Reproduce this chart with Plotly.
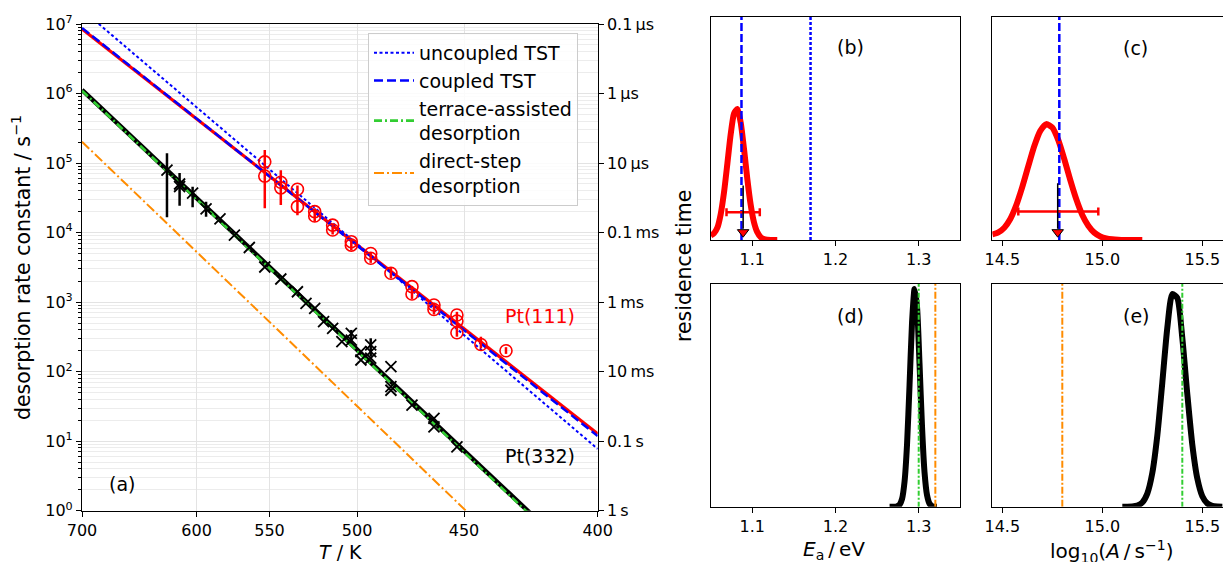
import numpy as np
import plotly.graph_objects as go

FONT = "DejaVu Sans"
KB_LN10 = 8.617333e-5 * np.log(10)   # Boltzmann constant (eV/K) * ln 10

# ---------------- Arrhenius lines (Ea / eV, log10(A / s^-1)) ----------------
theory_names = ["uncoupled TST", "coupled TST",
                "terrace-assisted<br>desorption", "direct-step<br>desorption"]
theory_Ea = [1.170, 1.087, 1.300, 1.320]
theory_logA = [15.63, 14.77, 15.40, 14.81]
fit_names = ["Pt(111) fit", "Pt(332) fit"]
fit_Ea = [1.078, 1.297]
fit_logA = [14.69, 15.39]

# ---------------- measured rate constants ----------------
T111 = [553, 553, 543, 543, 533, 533, 523, 523, 513, 513, 503, 503, 493, 493,
        483, 473, 473, 463, 463, 453, 453, 453, 443, 433]
k111 = [1.04e5, 6.5e4, 5.3e4, 4.4e4, 4.2e4, 2.36e4, 2.0e4, 1.73e4, 1.28e4, 1.09e4,
        7.4e3, 6.6e3, 5.0e3, 4.27e3, 2.6e3, 1.67e3, 1.31e3, 908, 783, 653, 535,
        363, 246, 200]
k111_up = [0, 8.9e4, 0, 3.5e4, 0, 2.4e4, 0, 5.0e3, 0, 2.5e3, 0, 1.5e3, 0, 1.0e3,
           500, 0, 400, 0, 200, 0, 190, 0, 72, 25]
k111_dn = [0, 4.26e4, 0, 1.9e4, 0, 5.8e3, 0, 3.0e3, 0, 1.5e3, 0, 1.0e3, 0, 600,
           400, 0, 200, 0, 120, 0, 217, 0, 30, 20]

T332 = [623, 613, 613, 603, 593, 583, 573, 563, 553, 543, 533, 528, 523, 518, 513,
        508, 503, 503, 498, 498, 493, 493, 493, 483, 483, 483, 473, 463, 463, 453]
k332 = [7.9e4, 5.0e4, 4.6e4, 3.7e4, 2.2e4, 1.57e4, 9.2e3, 6.1e3, 3.2e3, 2.15e3,
        1.41e3, 962, 815, 523, 420, 270, 356, 285, 194, 147, 242, 194, 156, 118,
        61, 54, 33, 21.3, 16.1, 8.3]
k332_up = [5.9e4, 2.2e4, 0, 8.7e3, 5.8e3, 0, 0, 0, 0, 0, 0, 0, 0, 0, 0,
           0, 41, 0, 0, 0, 60, 0, 0, 0, 0, 0, 0, 0, 0, 0]
k332_dn = [6.24e4, 2.56e4, 0, 1.39e4, 5.1e3, 0, 0, 0, 0, 0, 0, 0, 0, 0, 0,
           0, 101, 0, 0, 0, 78, 0, 0, 0, 0, 0, 0, 0, 0, 0]

# ---------------- axis ticks ----------------
xtick_T = [700, 600, 550, 500, 450, 400]
ytick_exp = [0, 1, 2, 3, 4, 5, 6, 7]
time_labels = ["1\u2009s", "0.1\u2009s", "10\u2009ms", "1\u2009ms", "0.1\u2009ms",
               "10\u2009\u00b5s", "1\u2009\u00b5s", "0.1\u2009\u00b5s"]

# ---------------- residence-time histograms ----------------
hb_x = [1.050, 1.054, 1.058, 1.062, 1.066, 1.070, 1.074, 1.078, 1.082, 1.086,
        1.090, 1.094, 1.098, 1.102, 1.106, 1.110, 1.114, 1.118, 1.122, 1.126, 1.130]
hb_y = [0.02, 0.03, 0.055, 0.115, 0.213, 0.341, 0.473, 0.566, 0.587, 0.527,
        0.409, 0.274, 0.159, 0.080, 0.035, 0.013, 0.004, 0.001, 0.0, 0.0, 0.0]
hc_x = [14.45, 14.48, 14.51, 14.54, 14.57, 14.60, 14.63, 14.66, 14.69, 14.72,
        14.75, 14.78, 14.81, 14.84, 14.87, 14.90, 14.93, 14.96, 14.99, 15.02,
        15.05, 15.08, 15.11, 15.14, 15.17, 15.20]
hc_y = [0.025, 0.034, 0.055, 0.094, 0.156, 0.238, 0.331, 0.421, 0.489, 0.519,
        0.504, 0.447, 0.362, 0.268, 0.182, 0.112, 0.064, 0.033, 0.016, 0.007,
        0.003, 0.001, 0.0, 0.0, 0.0, 0.0]
hd_x = [1.265, 1.268, 1.271, 1.274, 1.277, 1.280, 1.283, 1.286, 1.289, 1.292,
        1.295, 1.298, 1.301, 1.304, 1.307, 1.310, 1.313, 1.316, 1.319, 1.322]
hd_y = [0.0, 0.0, 0.0, 0.002, 0.009, 0.035, 0.113, 0.281, 0.547, 0.828,
        0.977, 0.897, 0.642, 0.358, 0.155, 0.052, 0.014, 0.003, 0.0, 0.0]
he_x = [15.100, 15.125, 15.150, 15.175, 15.200, 15.225, 15.250, 15.275, 15.300,
        15.325, 15.350, 15.375, 15.400, 15.425, 15.450, 15.475, 15.500, 15.525,
        15.550, 15.575, 15.600]
he_y = [0.0, 0.0, 0.001, 0.005, 0.019, 0.059, 0.151, 0.319, 0.557, 0.803, 0.955,
        0.937, 0.758, 0.506, 0.279, 0.127, 0.047, 0.015, 0.004, 0.001, 0.0]

# mean +- spread markers for Pt(111) panels (b), (c)
ebar_b = [1.069, 1.089, 1.109]   # lo, centre, hi
ebar_c = [14.58, 14.777, 14.98]
ebar_y = [0.124, 0.128]
arrow_top = [0.244, 0.254]

RED, BLUE, GREEN, ORANGE = "#ff0000", "#0000ff", "#32cd32", "#ff8c00"
theory_colors = [BLUE, BLUE, GREEN, ORANGE]
theory_dash = ["3px,2.5px", "9px,4px", "8px,3px,2px,3px", "10px,3px,2px,3px"]
theory_width = [2, 2.5, 2.6, 2]

fig = go.Figure()


def arrhenius(Ea, logA, T):
    return 10 ** (logA - Ea / (KB_LN10 * T))


T_ends = np.array([700.0, 400.0])
u_ends = 1000.0 / T_ends

# fits (solid)
fig.add_trace(go.Scatter(x=u_ends, y=arrhenius(fit_Ea[0], fit_logA[0], T_ends),
                         mode="lines", line=dict(color=RED, width=3.2),
                         showlegend=False, hoverinfo="skip"))
fig.add_trace(go.Scatter(x=u_ends, y=arrhenius(fit_Ea[1], fit_logA[1], T_ends),
                         mode="lines", line=dict(color="black", width=4.5),
                         showlegend=False, hoverinfo="skip"))
# theory
for n, Ea, lA, c, d, w in zip(theory_names, theory_Ea, theory_logA,
                              theory_colors, theory_dash, theory_width):
    fig.add_trace(go.Scatter(x=u_ends, y=arrhenius(Ea, lA, T_ends), mode="lines",
                             name=n, line=dict(color=c, width=w, dash=d)))

# data
fig.add_trace(go.Scatter(
    x=[1000.0 / t for t in T111], y=k111, mode="markers", showlegend=False,
    marker=dict(symbol="circle-open", size=12, color=RED, line=dict(width=1.6, color=RED)),
    error_y=dict(type="data", symmetric=False, array=k111_up, arrayminus=k111_dn,
                 color=RED, thickness=2.5, width=0)))
fig.add_trace(go.Scatter(
    x=[1000.0 / t for t in T332], y=k332, mode="markers", showlegend=False,
    marker=dict(symbol="x-thin", size=11, color="black", line=dict(width=1.8, color="black")),
    error_y=dict(type="data", symmetric=False, array=k332_up, arrayminus=k332_dn,
                 color="black", thickness=2.5, width=0)))
# invisible trace on the right (time) axis
fig.add_trace(go.Scatter(x=[u_ends[0]], y=[1.0], yaxis="y2", mode="markers",
                         marker=dict(opacity=0), showlegend=False, hoverinfo="skip"))

# ---------------- right panels ----------------
panels = [("x3", "y3", hb_x, hb_y, RED), ("x4", "y4", hc_x, hc_y, RED),
          ("x5", "y5", hd_x, hd_y, "black"), ("x6", "y6", he_x, he_y, "black")]
for xa, ya, hx, hy, col in panels:
    fig.add_trace(go.Scatter(x=hx, y=hy, xaxis=xa, yaxis=ya, mode="lines",
                             line=dict(color=col, width=6, shape="spline", smoothing=0.6),
                             showlegend=False, hoverinfo="skip"))


def vline(xa, ya, xv, color, dash, width):
    fig.add_trace(go.Scatter(x=[xv, xv], y=[0, 1], xaxis=xa, yaxis=ya, mode="lines",
                             line=dict(color=color, dash=dash, width=width),
                             showlegend=False, hoverinfo="skip"))


# (b) Ea, Pt(111)
vline("x3", "y3", theory_Ea[1], BLUE, "8px,3px", 2.5)
vline("x3", "y3", theory_Ea[0], BLUE, "3px,2px", 2.5)
# (c) log A, Pt(111)
vline("x4", "y4", theory_logA[1] + 0.015, BLUE, "8px,3px", 2.5)
vline("x4", "y4", theory_logA[0], BLUE, "3px,2px", 2.5)
# (d) Ea, Pt(332)
vline("x5", "y5", theory_Ea[2], GREEN, "5px,2px,2px,2px", 2)
vline("x5", "y5", theory_Ea[3], ORANGE, "7px,2px,2px,2px", 2)
# (e) log A, Pt(332)
vline("x6", "y6", theory_logA[3] - 0.01, ORANGE, "7px,2px,2px,2px", 2)
vline("x6", "y6", theory_logA[2], GREEN, "5px,2px,2px,2px", 2)

for (xa, ya), eb, yy, top in zip([("x3", "y3"), ("x4", "y4")], [ebar_b, ebar_c],
                                 ebar_y, arrow_top):
    fig.add_trace(go.Scatter(
        x=[eb[1]], y=[yy], xaxis=xa, yaxis=ya, mode="markers",
        marker=dict(size=1, color=RED), showlegend=False, hoverinfo="skip",
        error_x=dict(type="data", symmetric=False, array=[eb[2] - eb[1]],
                     arrayminus=[eb[1] - eb[0]], color=RED, thickness=2.5, width=4)))
    fig.add_trace(go.Scatter(x=[eb[1], eb[1]], y=[top, 0.05], xaxis=xa, yaxis=ya,
                             mode="lines", line=dict(color="black", width=1.5),
                             showlegend=False, hoverinfo="skip"))
    fig.add_trace(go.Scatter(x=[eb[1]], y=[0.035], xaxis=xa, yaxis=ya, mode="markers",
                             marker=dict(symbol="triangle-down", size=10, color=RED,
                                         line=dict(color="black", width=1)),
                             showlegend=False, hoverinfo="skip"))

W, H = 1231, 562
OFF = 8   # page body margin: the figure is drawn 8 px in from the window corner


def px(x):
    return (x - OFF) / W


def py(y):
    return 1 - (y - OFF) / H


main_dom_x = [px(82), px(597.7)]
main_dom_y = [py(510.7), py(24)]
bx, cx = [px(710.7), px(960.3)], [px(992.3), px(1229.3)]
top_y, bot_y = [py(240), py(16.7)], [py(506.7), py(284)]

axis_common = dict(showline=True, linecolor="black", linewidth=1.2, mirror=True,
                   ticks="outside", ticklen=5, tickwidth=1.2, tickcolor="black",
                   tickfont=dict(family=FONT, size=16, color="black"), zeroline=False,
                   automargin=False)

minor_vals = [m * 10 ** e for e in range(0, 7) for m in range(2, 10)]

fig.update_layout(
    width=W, height=H, margin=dict(l=0, r=0, t=0, b=0, autoexpand=False),
    paper_bgcolor="white", plot_bgcolor="white",
    font=dict(family=FONT, size=16, color="black"),
    xaxis=dict(domain=main_dom_x, range=[1000 / 700, 1000 / 400], anchor="y",
               tickmode="array", tickvals=[1000.0 / t for t in xtick_T],
               ticktext=[str(t) for t in xtick_T], showgrid=True,
               gridcolor="#e3e3e3", gridwidth=1, **axis_common),
    yaxis=dict(domain=main_dom_y, type="log", range=[0, 7], anchor="x",
               tickmode="array", tickvals=[10 ** e for e in ytick_exp],
               ticktext=["10<sup>%d</sup>" % e for e in ytick_exp],
               showgrid=True, gridcolor="#e3e3e3", gridwidth=1,
               minor=dict(tickmode="array", tickvals=minor_vals, ticks="outside",
                          ticklen=3, tickcolor="black", showgrid=True,
                          gridcolor="#ececec", gridwidth=1),
               **axis_common),
    yaxis2=dict(overlaying="y", side="right", type="log", range=[0, 7], anchor="x",
                tickmode="array", tickvals=[10 ** e for e in ytick_exp],
                ticktext=time_labels, showgrid=False, showline=False,
                ticks="outside", ticklen=5, tickwidth=1.2, tickcolor="black",
                tickfont=dict(family=FONT, size=16, color="black"), zeroline=False,
                automargin=False),
    legend=dict(x=px(368), y=py(33), xanchor="left", yanchor="top",
                bgcolor="rgba(255,255,255,0.85)", bordercolor="#cccccc", borderwidth=1,
                font=dict(family=FONT, size=19, color="black"), tracegroupgap=2,
                itemwidth=40),
    showlegend=True,
)

ea_ticks = [1.1, 1.2, 1.3]
la_ticks = [14.5, 15.0, 15.5]
for i, (dx, dy, rng, tv) in enumerate([(bx, top_y, [1.05, 1.35], ea_ticks),
                                       (cx, top_y, [14.45, 15.635], la_ticks),
                                       (bx, bot_y, [1.05, 1.35], ea_ticks),
                                       (cx, bot_y, [14.45, 15.635], la_ticks)]):
    n = i + 3
    fig.layout["xaxis%d" % n] = dict(domain=dx, range=rng, anchor="y%d" % n,
                                     tickmode="array", tickvals=tv,
                                     ticktext=["%.1f" % v for v in tv],
                                     showgrid=False, **axis_common)
    fig.layout["yaxis%d" % n] = dict(domain=dy, range=[0, 1], anchor="x%d" % n,
                                     showticklabels=False, showgrid=False,
                                     showline=True, linecolor="black", linewidth=1.2,
                                     mirror=True, ticks="", zeroline=False,
                                     automargin=False)

ann = [
    dict(text="desorption rate constant / s<sup>\u22121</sup>", x=px(21), y=py(268),
         textangle=-90, size=20.5, color="black"),
    dict(text="<i>T</i> / K", x=px(340), y=py(552), size=19, color="black"),
    dict(text="<i>E</i><sub>a</sub>\u2009/\u2009eV", x=px(834), y=py(550), size=20,
         color="black"),
    dict(text="log<sub>10</sub>(<i>A</i>\u2009/\u2009s<sup>\u22121</sup>)", x=px(1111),
         y=py(551), size=20, color="black"),
    dict(text="residence time", x=px(684), y=py(266), textangle=-90, size=20.5,
         color="black"),
    dict(text="Pt(111)", x=px(540), y=py(316), size=19, color=RED),
    dict(text="Pt(332)", x=px(540), y=py(456), size=19, color="black"),
    dict(text="(a)", x=px(122), y=py(484), size=19, color="black"),
    dict(text="(b)", x=px(850), y=py(47), size=19, color="black"),
    dict(text="(c)", x=px(1135), y=py(48), size=19, color="black"),
    dict(text="(d)", x=px(850), y=py(316), size=19, color="black"),
    dict(text="(e)", x=px(1136), y=py(316), size=19, color="black"),
]
for a in ann:
    fig.add_annotation(text=a["text"], x=a["x"], y=a["y"], xref="paper", yref="paper",
                       showarrow=False, xanchor="center", yanchor="middle",
                       textangle=a.get("textangle", 0),
                       font=dict(family=FONT, size=a["size"], color=a["color"]))

fig.write_html("out.html")
